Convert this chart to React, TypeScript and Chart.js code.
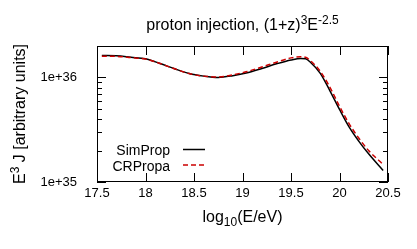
import React, { useEffect, useRef } from "react";
import { Chart, registerables } from "chart.js";

Chart.register(...registerables);

const energies = [17.55, 17.7, 17.85, 18.0, 18.15, 18.3, 18.45, 18.6, 18.75, 18.9, 19.05, 19.2, 19.35, 19.5, 19.6, 19.65, 19.7, 19.8, 19.9, 20.0, 20.1, 20.2, 20.3, 20.45];
const simProp = [1.62e36, 1.61e36, 1.56e36, 1.51e36, 1.36e36, 1.21e36, 1.09e36, 1.03e36, 1.0e36, 1.04e36, 1.11e36, 1.22e36, 1.35e36, 1.47e36, 1.52e36, 1.51e36, 1.40e36, 1.1e36, 7.5e35, 4.95e35, 3.35e35, 2.45e35, 1.86e35, 1.29e35];
const crPropa = [1.60e36, 1.59e36, 1.55e36, 1.50e36, 1.36e36, 1.21e36, 1.09e36, 1.03e36, 1.01e36, 1.06e36, 1.14e36, 1.26e36, 1.40e36, 1.54e36, 1.58e36, 1.56e36, 1.45e36, 1.15e36, 8.1e35, 5.3e35, 3.6e35, 2.62e35, 2.0e35, 1.47e35];
const xTicks = [17.5, 18, 18.5, 19, 19.5, 20, 20.5];
const yTicks = [1e35, 1e36];
const yTickLabels = ["1e+35", "1e+36"];
const seriesNames = ["SimProp", "CRPropa"];
const seriesColors = ["#000000", "#cc0000"];

const FONT = "Liberation Sans, Arial, Helvetica, sans-serif";

type Seg = { t: string; mode?: "sup" | "sub" };

function segWidth(ctx: CanvasRenderingContext2D, segs: Seg[], size: number, small: number) {
  let w = 0;
  for (const s of segs) {
    ctx.font = `${s.mode ? small : size}px ${FONT}`;
    w += ctx.measureText(s.t).width;
  }
  return w;
}

function drawSegs(ctx: CanvasRenderingContext2D, segs: Seg[], x: number, y: number, size: number, small: number) {
  let cx = x;
  ctx.textAlign = "left";
  ctx.textBaseline = "alphabetic";
  for (const s of segs) {
    ctx.font = `${s.mode ? small : size}px ${FONT}`;
    const dy = s.mode === "sup" ? -size * 0.4 : s.mode === "sub" ? size * 0.28 : 0;
    ctx.fillText(s.t, cx, y + dy);
    cx += ctx.measureText(s.t).width;
  }
}

const decorPlugin = {
  id: "decor",
  afterDraw(chart: any) {
    const ctx: CanvasRenderingContext2D = chart.ctx;
    const { left, right, top, bottom } = chart.chartArea;
    const xs = chart.scales.x;
    const ys = chart.scales.y;
    ctx.save();
    ctx.strokeStyle = "#000";
    ctx.fillStyle = "#000";
    ctx.lineWidth = 1;
    // border
    ctx.strokeRect(Math.round(left) + 0.5, Math.round(top) + 0.5, Math.round(right - left) - 1, Math.round(bottom - top) - 1);
    // x ticks
    ctx.beginPath();
    for (const v of xTicks) {
      const px = Math.round(xs.getPixelForValue(v)) + 0.5;
      ctx.moveTo(px, bottom);
      ctx.lineTo(px, bottom - 9);
      ctx.moveTo(px, top);
      ctx.lineTo(px, top + 9);
    }
    // y ticks (major + minor)
    for (let e = 35; e <= 36; e++) {
      for (let m = 1; m <= 9; m++) {
        const v = m * Math.pow(10, e);
        if (v < ys.min || v > ys.max) continue;
        const py = Math.round(ys.getPixelForValue(v)) + 0.5;
        const len = m === 1 ? 9 : 5;
        ctx.moveTo(left, py);
        ctx.lineTo(left + len, py);
        ctx.moveTo(right, py);
        ctx.lineTo(right - len, py);
      }
    }
    ctx.stroke();

    // title
    const title: Seg[] = [{ t: "proton injection, (1+z)" }, { t: "3", mode: "sup" }, { t: "E" }, { t: "-2.5", mode: "sup" }];
    const tw = segWidth(ctx, title, 16, 12);
    drawSegs(ctx, title, (left + right) / 2 - tw / 2, 30, 16, 12);

    // x title
    const xt: Seg[] = [{ t: "log" }, { t: "10", mode: "sub" }, { t: "(E/eV)" }];
    const xw = segWidth(ctx, xt, 16, 12);
    drawSegs(ctx, xt, (left + right) / 2 - xw / 2, 222, 16, 12);

    // y title
    const yt: Seg[] = [{ t: "E" }, { t: "3", mode: "sup" }, { t: " J [arbitrary units]" }];
    const yw = segWidth(ctx, yt, 16, 12);
    ctx.save();
    ctx.translate(25, (top + bottom) / 2);
    ctx.rotate(-Math.PI / 2);
    drawSegs(ctx, yt, -yw / 2, 0, 16, 12);
    ctx.restore();

    // legend
    const rows = [149.5, 165];
    for (let i = 0; i < seriesNames.length; i++) {
      ctx.font = `14px ${FONT}`;
      ctx.fillStyle = "#000";
      ctx.textAlign = "right";
      ctx.textBaseline = "alphabetic";
      ctx.fillText(seriesNames[i], 170, rows[i] + 5.5);
      ctx.beginPath();
      ctx.strokeStyle = seriesColors[i];
      ctx.lineWidth = 1.5;
      ctx.setLineDash(i === 1 ? [5, 3] : []);
      ctx.moveTo(183, rows[i]);
      ctx.lineTo(205, rows[i]);
      ctx.stroke();
      ctx.setLineDash([]);
    }
    ctx.restore();
  },
};

export default function App() {
  const ref = useRef<HTMLCanvasElement | null>(null);
  useEffect(() => {
    if (!ref.current) return;
    const chart = new Chart(ref.current, {
      type: "line",
      data: {
        datasets: [
          {
            label: seriesNames[0],
            data: energies.map((x, i) => ({ x, y: simProp[i] })),
            borderColor: seriesColors[0],
            borderWidth: 1.5,
            pointRadius: 0,
            cubicInterpolationMode: "monotone",
            fill: false,
            order: 1,
          },
          {
            label: seriesNames[1],
            data: energies.map((x, i) => ({ x, y: crPropa[i] })),
            borderColor: seriesColors[1],
            borderWidth: 1.5,
            borderDash: [5, 3],
            pointRadius: 0,
            cubicInterpolationMode: "monotone",
            fill: false,
            order: 0,
          },
        ],
      },
      options: {
        animation: false,
        responsive: false,
        devicePixelRatio: 1,
        layout: { padding: { left: 0, right: 29, top: 46, bottom: 0 } },
        plugins: { legend: { display: false }, title: { display: false }, tooltip: { enabled: false } },
        scales: {
          x: {
            type: "linear",
            min: 17.5,
            max: 20.5,
            afterBuildTicks: (s: any) => {
              s.ticks = xTicks.map((v) => ({ value: v }));
            },
            afterFit: (s: any) => {
              s.height = 67;
            },
            ticks: {
              autoSkip: false,
              maxRotation: 0,
              minRotation: 0,
              color: "#000",
              padding: 4,
              font: { family: FONT, size: 13 },
              callback: (v: any) => String(v),
            },
            grid: { display: false, drawTicks: false },
            border: { display: false },
          },
          y: {
            type: "logarithmic",
            min: 1e35,
            max: 2e36,
            afterBuildTicks: (s: any) => {
              s.ticks = yTicks.map((v) => ({ value: v }));
            },
            afterFit: (s: any) => {
              s.width = 97;
            },
            ticks: {
              autoSkip: false,
              color: "#000",
              padding: 20,
              font: { family: FONT, size: 13 },
              callback: (v: any) => {
                const i = yTicks.indexOf(Number(v));
                return i >= 0 ? yTickLabels[i] : "";
              },
            },
            grid: { display: false, drawTicks: false },
            border: { display: false },
          },
        },
      },
      plugins: [decorPlugin],
    } as any);
    return () => chart.destroy();
  }, []);
  return (
    <div style={{ position: "fixed", left: 0, top: 0, width: 417, height: 249, background: "#fff" }}>
      <canvas ref={ref} width={417} height={249} style={{ display: "block" }} />
    </div>
  );
}
